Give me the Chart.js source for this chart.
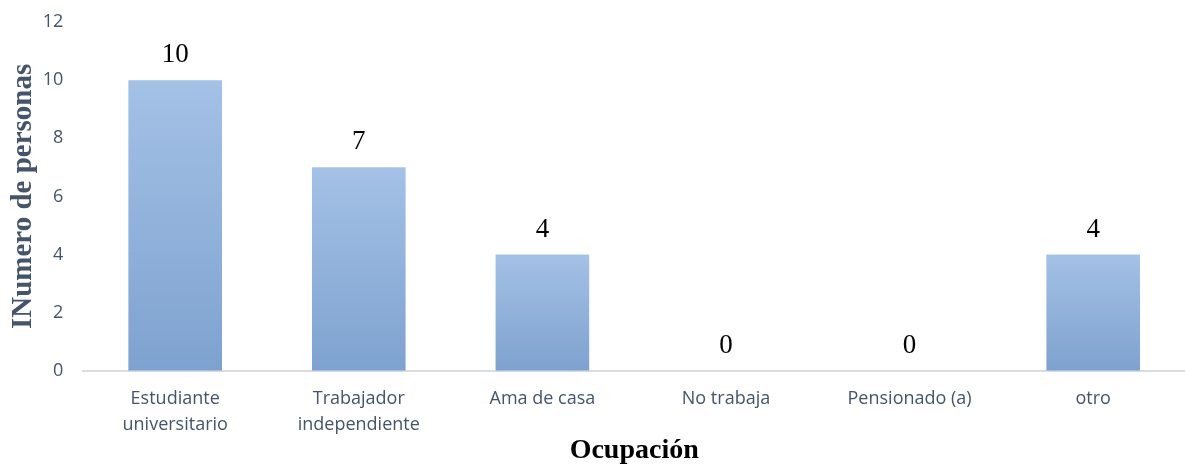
<!DOCTYPE html>
<html>
<head>
<meta charset="utf-8">
<script src="https://cdn.jsdelivr.net/npm/chart.js@4/dist/chart.umd.min.js"></script>
<style>
  html, body { margin: 0; padding: 0; background: #ffffff; }
  #wrap { width: 1185px; height: 465px; position: relative; }
</style>
</head>
<body>
<div id="wrap"><canvas id="chart"></canvas></div>
<script>
// Chart data
var categories = [['Estudiante', 'universitario'], ['Trabajador', 'independiente'], 'Ama de casa', 'No trabaja', 'Pensionado (a)', 'otro'];
var personas = [10, 7, 4, 0, 0, 4];
var yTicks = [0, 2, 4, 6, 8, 10, 12];

var axisColor = '#44546a';

// vertical gradient per bar, light at top, darker at base
function barGradient(ctx) {
    var chart = ctx.chart;
    if (!chart.chartArea) return '#92b1dc';
    var y = chart.scales.y;
    var top = y.getPixelForValue(ctx.raw || 0);
    var bottom = y.getPixelForValue(0);
    if (bottom - top < 1) return '#92b1dc';
    var g = chart.ctx.createLinearGradient(0, top, 0, bottom);
    g.addColorStop(0, '#a4c1e6');
    g.addColorStop(1, '#7ea2cf');
    return g;
}

// value labels above bars
var valueLabels = {
    id: 'valueLabels',
    afterDatasetsDraw: function(chart) {
        var c = chart.ctx;
        var meta = chart.getDatasetMeta(0);
        c.save();
        c.font = '27px "Liberation Serif", "Times New Roman", serif';
        c.fillStyle = '#000000';
        c.textAlign = 'center';
        c.textBaseline = 'alphabetic';
        for (var i = 0; i < meta.data.length; i++) {
            var bar = meta.data[i];
            c.fillText(String(personas[i]), bar.x, bar.y - 18);
        }
        c.restore();
    }
};

var ctx = document.getElementById('chart').getContext('2d');
new Chart(ctx, {
    type: 'bar',
    data: {
        labels: categories,
        datasets: [{
            data: personas,
            backgroundColor: barGradient,
            borderWidth: 0,
            barPercentage: 0.51,
            categoryPercentage: 1
        }]
    },
    options: {
        responsive: true,
        maintainAspectRatio: false,
        animation: false,
        layout: { padding: { top: 0, right: 0, left: 6, bottom: 0 } },
        plugins: {
            legend: { display: false },
            tooltip: { enabled: false }
        },
        scales: {
            x: {
                grid: { display: false, drawTicks: false },
                border: { color: '#d9dde3', width: 2 },
                ticks: {
                    color: axisColor,
                    font: { family: '"Open Sans", sans-serif', size: 18, lineHeight: 1.45 },
                    maxRotation: 0,
                    padding: 15
                },
                title: {
                    display: true,
                    text: 'Ocupación',
                    color: '#000000',
                    font: { family: '"Liberation Serif", "Times New Roman", serif', size: 28, weight: 'bold', lineHeight: 1.0 },
                    padding: { top: -16, bottom: 0 }
                }
            },
            y: {
                min: 0,
                max: 12,
                afterBuildTicks: function(axis) {
                    axis.ticks = yTicks.map(function(v) { return { value: v }; });
                },
                afterFit: function(axis) {
                    // top of plot sits where the "12" label is
                    axis.paddingTop = 22;
                },
                grid: { display: false, drawTicks: false },
                border: { display: false },
                ticks: {
                    color: axisColor,
                    font: { family: '"Open Sans", sans-serif', size: 18 },
                    padding: 20
                },
                title: {
                    display: true,
                    text: 'INumero de personas',
                    color: axisColor,
                    font: { family: '"Liberation Serif", "Times New Roman", serif', size: 29, weight: 'bold' },
                    padding: { top: 0, bottom: -18 }
                }
            }
        }
    },
    plugins: [valueLabels]
});
</script>
</body>
</html>
